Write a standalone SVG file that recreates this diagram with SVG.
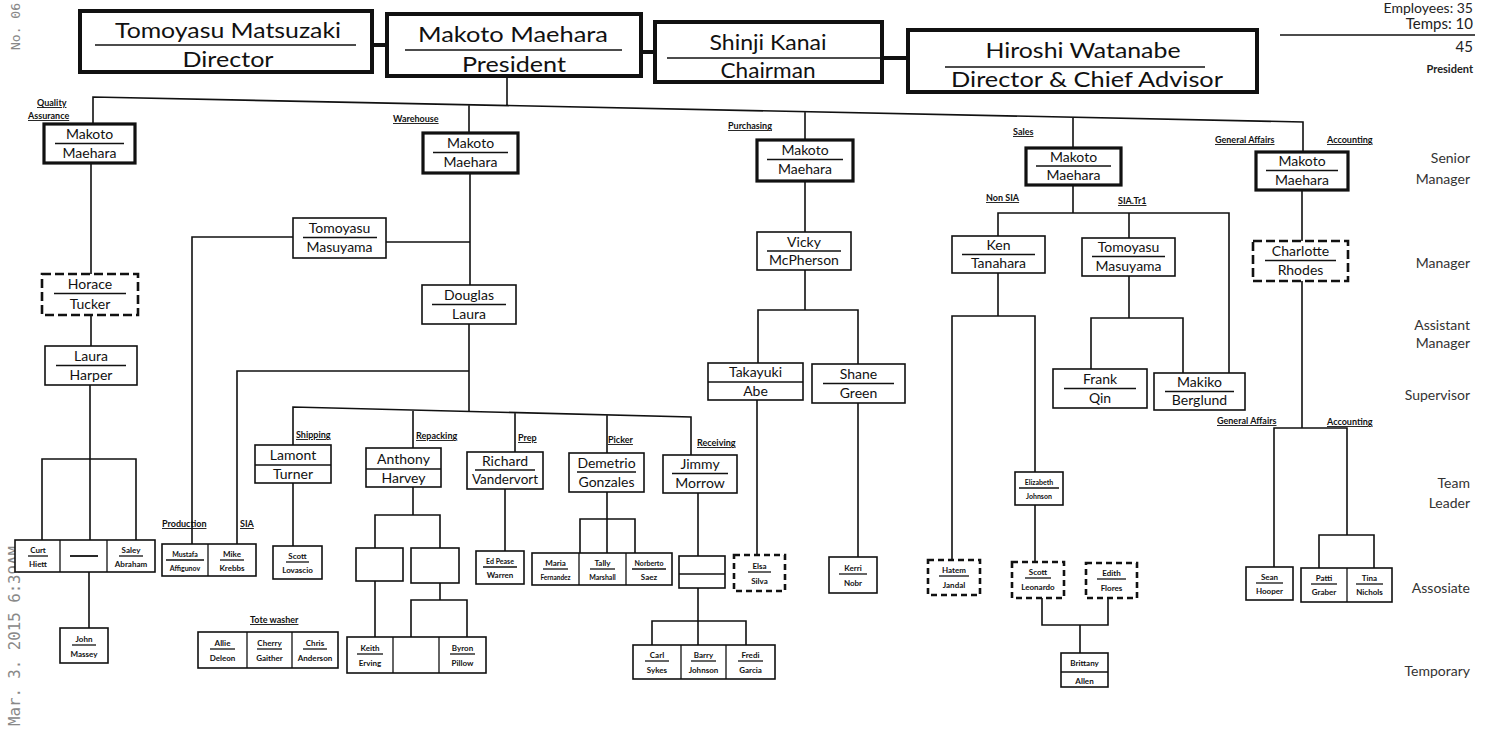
<svg xmlns="http://www.w3.org/2000/svg" width="1486" height="729" viewBox="0 0 1486 729">
<style>
.b{fill:#fff;stroke:#111;stroke-width:1.6}
.bt{fill:#fff;stroke:#111;stroke-width:3.2}
.bx{fill:#fff;stroke:#111;stroke-width:4}
.bd{fill:#fff;stroke:#111;stroke-width:2.6;stroke-dasharray:9 4}
.c{stroke:#111;stroke-width:1.6;fill:none}
.ct{stroke:#111;stroke-width:4;fill:none}
.u{stroke:#111;stroke-width:1.3}
text{font-family:Lato,"Open Sans","Liberation Sans",sans-serif;fill:#111;text-anchor:middle}
.t{font-size:14px}
.tl{font-size:22px}
.ts{font-size:8px;font-weight:700}
.d{font-size:9px;font-weight:700;text-decoration:underline;text-anchor:start}
.lev{font-size:14px;text-anchor:end;fill:#333}
.tr{font-size:15px;text-anchor:end;fill:#222}
.fax{font-family:"DejaVu Sans Mono",monospace;font-size:16px;fill:#888;text-anchor:start}
</style>
<rect width="1486" height="729" fill="#fff"/>

<!-- fax header -->
<text class="fax" transform="translate(20,726) rotate(-90)" textLength="180" lengthAdjust="spacingAndGlyphs">Mar. 3. 2015  6:39AM</text>
<text class="fax" transform="translate(20,50) rotate(-90)" style="font-size:13px">No. 06</text>

<!-- top right totals -->
<text class="tr" x="1473" y="13" style="font-size:14px">Employees: 35</text>
<text class="tr" x="1473" y="29">Temps: 10</text>
<line class="u" x1="1280" y1="35" x2="1475" y2="35" style="stroke-width:1.5"/>
<text class="tr" x="1473" y="52">45</text>
<text class="tr" x="1473" y="73" style="font-size:11px;font-weight:700">President</text>

<!-- level labels -->
<g id="levels">
<text class="lev" x="1470" y="163">Senior</text>
<text class="lev" x="1470" y="184">Manager</text>
<text class="lev" x="1470" y="268">Manager</text>
<text class="lev" x="1470" y="330">Assistant</text>
<text class="lev" x="1470" y="348">Manager</text>
<text class="lev" x="1470" y="400">Supervisor</text>
<text class="lev" x="1470" y="488">Team</text>
<text class="lev" x="1470" y="508">Leader</text>
<text class="lev" x="1470" y="593">Assosiate</text>
<text class="lev" x="1470" y="676">Temporary</text>
</g>

<!-- connectors -->
<g id="connectors">
<path class="ct" d="M372,45 H387 M641,52 H655 M882,58 H908"/>
<path class="c" d="M93,124 V97 L1303,122 V152 M507,76 V105.5 M469,105 V133 M805,112 V140 M1073,117 V148"/>
<path class="c" d="M91,163 V274 M91,315 V346 M90,385 V540 M42,540 V459 H136 V540 M89,572 V628"/>
<path class="c" d="M470,173 V285 M386,242 H470 M293,237 H192 V544 M469,324 V411 M237,544 V371 H469"/>
<path class="c" d="M293,445 V407 L691,417 V455 M413,410 V448 M515,413 V452 M607,415 V453"/>
<path class="c" d="M293,483 V546 M413,487 V515 M375,548 V515 H440 V548 M375,581 V637 M440,583 V600 M411,637 V600 H467 V637"/>
<path class="c" d="M505,489 V551 M607,492 V553 M580,553 V519 H635 V553 M698,493 V556 M698,588 V645 M652,645 V621 H746 V645"/>
<path class="c" d="M805,181 V232 M805,270 V310 M758,363 V310 H858 V364 M757,400 V555 M858,403 V557"/>
<path class="c" d="M1073,185 V213 M998,236 V213 H1229 V373 M1129,213 V238 M998,273 V316 M952,560 V316 H1035 V472 M1035,505 V562 M1129,276 V318 M1091,369 V318 H1183 V373 M1042,598 V625 H1108 V598 M1080,625 V653"/>
<path class="c" d="M1302,190 V241 M1302,281 V428 M1274,567 V428 H1347 V535 M1319,568 V535 H1374 V568"/>
</g>

<!-- department labels -->
<g id="labels">
<text class="d" x="37" y="106">Quality</text>
<text class="d" x="28" y="119">Assurance</text>
<text class="d" x="393" y="122">Warehouse</text>
<text class="d" x="728" y="129">Purchasing</text>
<text class="d" x="1013" y="135">Sales</text>
<text class="d" x="1215" y="143">General Affairs</text>
<text class="d" x="1327" y="143">Accounting</text>
<text class="d" x="986" y="201">Non SIA</text>
<text class="d" x="1118" y="204">SIA.Tr1</text>
<text class="d" x="162" y="527">Production</text>
<text class="d" x="240" y="527">SIA</text>
<text class="d" x="296" y="438">Shipping</text>
<text class="d" x="416" y="439">Repacking</text>
<text class="d" x="518" y="441">Prep</text>
<text class="d" x="608" y="443">Picker</text>
<text class="d" x="697" y="446">Receiving</text>
<text class="d" x="250" y="623">Tote washer</text>
<text class="d" x="1217" y="424">General Affairs</text>
<text class="d" x="1327" y="425">Accounting</text>
</g>

<!-- top row -->
<g id="n-matsuzaki"><rect class="bx" x="80" y="11" width="292" height="61"/><text class="tl" x="228" y="38" textLength="226" lengthAdjust="spacingAndGlyphs">Tomoyasu Matsuzaki</text><line class="u" x1="95" y1="45" x2="356" y2="45"/><text class="tl" x="228" y="67" textLength="91" lengthAdjust="spacingAndGlyphs">Director</text></g>
<g id="n-president"><rect class="bx" x="387" y="14" width="254" height="62"/><text class="tl" x="513" y="42" textLength="190" lengthAdjust="spacingAndGlyphs">Makoto Maehara</text><line class="u" x1="405" y1="50" x2="622" y2="50"/><text class="tl" x="514" y="72" textLength="104" lengthAdjust="spacingAndGlyphs">President</text></g>
<g id="n-chairman"><rect class="bx" x="655" y="22" width="227" height="60"/><text class="tl" x="768" y="50" textLength="117" lengthAdjust="spacingAndGlyphs">Shinji Kanai</text><line class="u" x1="667" y1="58" x2="880" y2="58"/><text class="tl" x="768" y="78" textLength="95" lengthAdjust="spacingAndGlyphs">Chairman</text></g>
<g id="n-advisor"><rect class="bx" x="908" y="30" width="349" height="62"/><text class="tl" x="1083" y="58" textLength="195" lengthAdjust="spacingAndGlyphs">Hiroshi Watanabe</text><line class="u" x1="945" y1="67" x2="1205" y2="67"/><text class="tl" x="1087" y="87" textLength="272" lengthAdjust="spacingAndGlyphs">Director &amp; Chief Advisor</text></g>

<!-- senior managers -->
<g id="n-qa"><rect class="bt" x="44" y="124" width="91" height="39"/><text class="t" x="89.5" y="139">Makoto</text><line class="u" x1="55" y1="143.5" x2="124" y2="143.5"/><text class="t" x="89.5" y="158">Maehara</text></g>
<g id="n-wh"><rect class="bt" x="423" y="133" width="95" height="40"/><text class="t" x="470.5" y="148">Makoto</text><line class="u" x1="433" y1="152.5" x2="508" y2="152.5"/><text class="t" x="470.5" y="167">Maehara</text></g>
<g id="n-pu"><rect class="bt" x="757" y="140" width="96" height="41"/><text class="t" x="805" y="155">Makoto</text><line class="u" x1="767" y1="159.5" x2="843" y2="159.5"/><text class="t" x="805" y="174">Maehara</text></g>
<g id="n-sa"><rect class="bt" x="1026" y="148" width="95" height="37"/><text class="t" x="1073.5" y="162">Makoto</text><line class="u" x1="1036" y1="166" x2="1111" y2="166"/><text class="t" x="1073.5" y="180">Maehara</text></g>
<g id="n-ga"><rect class="bt" x="1256" y="152" width="92" height="38"/><text class="t" x="1302" y="166">Makoto</text><line class="u" x1="1266" y1="170.5" x2="1338" y2="170.5"/><text class="t" x="1302" y="185">Maehara</text></g>

<!-- managers -->
<g id="n-horace"><rect class="bd" x="42" y="274" width="96" height="41"/><text class="t" x="90" y="289">Horace</text><line class="u" x1="54" y1="293.5" x2="126" y2="293.5"/><text class="t" x="90" y="309">Tucker</text></g>
<g id="n-masuyama1"><rect class="b" x="293" y="218" width="93" height="40"/><text class="t" x="339.5" y="233">Tomoyasu</text><line class="u" x1="303" y1="237.5" x2="377" y2="237.5"/><text class="t" x="339.5" y="252">Masuyama</text></g>
<g id="n-vicky"><rect class="b" x="757" y="232" width="94" height="38"/><text class="t" x="804" y="247">Vicky</text><line class="u" x1="767" y1="251" x2="841" y2="251"/><text class="t" x="804" y="265">McPherson</text></g>
<g id="n-ken"><rect class="b" x="952" y="236" width="93" height="37"/><text class="t" x="998.5" y="250">Ken</text><line class="u" x1="962" y1="254.5" x2="1035" y2="254.5"/><text class="t" x="998.5" y="268">Tanahara</text></g>
<g id="n-masuyama2"><rect class="b" x="1082" y="238" width="93" height="38"/><text class="t" x="1128.5" y="252">Tomoyasu</text><line class="u" x1="1092" y1="256.5" x2="1165" y2="256.5"/><text class="t" x="1128.5" y="271">Masuyama</text></g>
<g id="n-charlotte"><rect class="bd" x="1253" y="241" width="95" height="40"/><text class="t" x="1300.5" y="256">Charlotte</text><line class="u" x1="1265" y1="260.5" x2="1336" y2="260.5"/><text class="t" x="1300.5" y="275">Rhodes</text></g>

<!-- assistant managers -->
<g id="n-laura"><rect class="b" x="45" y="346" width="92" height="39"/><text class="t" x="91" y="361">Laura</text><line class="u" x1="56" y1="365.5" x2="126" y2="365.5"/><text class="t" x="91" y="380">Harper</text></g>
<g id="n-douglas"><rect class="b" x="422" y="285" width="94" height="39"/><text class="t" x="469" y="300">Douglas</text><line class="u" x1="432" y1="304.5" x2="506" y2="304.5"/><text class="t" x="469" y="319">Laura</text></g>

<!-- supervisors -->
<g id="n-takayuki"><rect class="b" x="708" y="363" width="95" height="37"/><line class="u" x1="708" y1="382" x2="803" y2="382"/><text class="t" x="755.5" y="377">Takayuki</text><text class="t" x="755.5" y="396">Abe</text></g>
<g id="n-shane"><rect class="b" x="812" y="364" width="93" height="39"/><text class="t" x="858.5" y="379">Shane</text><line class="u" x1="823" y1="383.5" x2="894" y2="383.5"/><text class="t" x="858.5" y="398">Green</text></g>
<g id="n-frank"><rect class="b" x="1053" y="369" width="94" height="39"/><text class="t" x="1100" y="384">Frank</text><line class="u" x1="1064" y1="388.5" x2="1136" y2="388.5"/><text class="t" x="1100" y="403">Qin</text></g>
<g id="n-makiko"><rect class="b" x="1154" y="373" width="91" height="37"/><text class="t" x="1199.5" y="387">Makiko</text><line class="u" x1="1165" y1="391.5" x2="1234" y2="391.5"/><text class="t" x="1199.5" y="405">Berglund</text></g>

<!-- team leaders -->
<g id="n-lamont"><rect class="b" x="255" y="445" width="76" height="38"/><line class="u" x1="255" y1="465" x2="331" y2="465"/><text class="t" x="293" y="460">Lamont</text><text class="t" x="293" y="479">Turner</text></g>
<g id="n-anthony"><rect class="b" x="366" y="448" width="75" height="39"/><line class="u" x1="366" y1="469" x2="441" y2="469"/><text class="t" x="403.5" y="464">Anthony</text><text class="t" x="403.5" y="483">Harvey</text></g>
<g id="n-richard"><rect class="b" x="467" y="452" width="76" height="37"/><text class="t" x="505" y="466">Richard</text><line class="u" x1="475" y1="470" x2="535" y2="470"/><text class="t" x="505" y="484" textLength="66" lengthAdjust="spacingAndGlyphs">Vandervort</text></g>
<g id="n-demetrio"><rect class="b" x="569" y="453" width="75" height="39"/><text class="t" x="606.5" y="468">Demetrio</text><line class="u" x1="577" y1="472" x2="636" y2="472"/><text class="t" x="606.5" y="487">Gonzales</text></g>
<g id="n-jimmy"><rect class="b" x="663" y="455" width="74" height="38"/><text class="t" x="700" y="469">Jimmy</text><line class="u" x1="672" y1="473.5" x2="728" y2="473.5"/><text class="t" x="700" y="488">Morrow</text></g>
<g id="n-elizabeth"><rect class="b" x="1015" y="472" width="48" height="33"/><text class="ts" x="1039" y="485" style="font-size:7px">Elizabeth</text><line class="u" x1="1019" y1="488" x2="1059" y2="488"/><text class="ts" x="1039" y="499" style="font-size:7px">Johnson</text></g>

<!-- associates -->
<g id="n-curt-row"><rect class="b" x="15" y="540" width="140" height="32"/><line class="u" x1="60" y1="540" x2="60" y2="572"/><line class="u" x1="107" y1="540" x2="107" y2="572"/>
<text class="ts" x="38" y="553">Curt</text><line class="u" x1="28" y1="556" x2="48" y2="556"/><text class="ts" x="38" y="567">Hiett</text>
<line class="u" x1="70" y1="556" x2="98" y2="556" style="stroke-width:1.8"/>
<text class="ts" x="131" y="553">Saley</text><line class="u" x1="119" y1="556" x2="143" y2="556"/><text class="ts" x="131" y="567">Abraham</text></g>
<g id="n-prod-sia"><rect class="b" x="162" y="544" width="94" height="32"/><line class="u" x1="208" y1="544" x2="208" y2="576"/>
<text class="ts" x="185" y="557" style="font-size:7px">Mustafa</text><line class="u" x1="166" y1="560" x2="204" y2="560"/><text class="ts" x="185" y="571" style="font-size:7px">Affigunov</text>
<text class="ts" x="232" y="557">Mike</text><line class="u" x1="220" y1="560" x2="244" y2="560"/><text class="ts" x="232" y="571">Krebbs</text></g>
<g id="n-scott-l"><rect class="b" x="273" y="546" width="49" height="33"/><text class="ts" x="297.5" y="559">Scott</text><line class="u" x1="286" y1="562" x2="309" y2="562"/><text class="ts" x="297.5" y="573">Lovascio</text></g>
<g id="n-empty1"><rect class="b" x="356" y="548" width="47" height="33"/></g>
<g id="n-empty2"><rect class="b" x="411" y="548" width="48" height="35"/></g>
<g id="n-ed"><rect class="b" x="476" y="551" width="48" height="33"/><text class="ts" x="500" y="564" style="font-size:7px">Ed Pease</text><line class="u" x1="483" y1="567" x2="517" y2="567"/><text class="ts" x="500" y="578">Warren</text></g>
<g id="n-picker-row"><rect class="b" x="532" y="553" width="140" height="32"/><line class="u" x1="579" y1="553" x2="579" y2="585"/><line class="u" x1="626" y1="553" x2="626" y2="585"/>
<text class="ts" x="555.5" y="566">Maria</text><line class="u" x1="543" y1="569" x2="568" y2="569"/><text class="ts" x="555.5" y="580" style="font-size:6.5px">Fernandez</text>
<text class="ts" x="602.5" y="566">Tally</text><line class="u" x1="590" y1="569" x2="615" y2="569"/><text class="ts" x="602.5" y="580" style="font-size:7px">Marshall</text>
<text class="ts" x="649" y="566" style="font-size:7px">Norberto</text><line class="u" x1="632" y1="569" x2="666" y2="569"/><text class="ts" x="649" y="580">Saez</text></g>
<g id="n-empty3"><rect class="b" x="679" y="556" width="46" height="32"/><line class="u" x1="679" y1="574" x2="725" y2="574"/></g>
<g id="n-elsa"><rect class="bd" x="734" y="555" width="51" height="36" style="stroke-dasharray:6 4"/><text class="ts" x="759.5" y="569">Elsa</text><line class="u" x1="748" y1="572" x2="771" y2="572"/><text class="ts" x="759.5" y="584">Silva</text></g>
<g id="n-kerri"><rect class="b" x="829" y="557" width="48" height="36"/><text class="ts" x="853" y="571">Kerri</text><line class="u" x1="839" y1="574" x2="867" y2="574"/><text class="ts" x="853" y="586">Nobr</text></g>
<g id="n-hatem"><rect class="bd" x="928" y="560" width="52" height="35" style="stroke-dasharray:6 4"/><text class="ts" x="954" y="573">Hatem</text><line class="u" x1="939" y1="576" x2="969" y2="576"/><text class="ts" x="954" y="588">Jandal</text></g>
<g id="n-scott-le"><rect class="bd" x="1012" y="562" width="52" height="36" style="stroke-dasharray:6 4"/><text class="ts" x="1038" y="575">Scott</text><line class="u" x1="1025" y1="578" x2="1051" y2="578"/><text class="ts" x="1038" y="590">Leonardo</text></g>
<g id="n-edith"><rect class="bd" x="1086" y="563" width="51" height="35" style="stroke-dasharray:6 4"/><text class="ts" x="1111.5" y="576">Edith</text><line class="u" x1="1097" y1="579" x2="1126" y2="579"/><text class="ts" x="1111.5" y="591">Flores</text></g>
<g id="n-sean"><rect class="b" x="1246" y="567" width="47" height="33"/><text class="ts" x="1269.5" y="580">Sean</text><line class="u" x1="1256" y1="583" x2="1283" y2="583"/><text class="ts" x="1269.5" y="594">Hooper</text></g>
<g id="n-patti-tina"><rect class="b" x="1301" y="568" width="91" height="34"/><line class="u" x1="1347" y1="568" x2="1347" y2="602"/>
<text class="ts" x="1324" y="581">Patti</text><line class="u" x1="1311" y1="584" x2="1337" y2="584"/><text class="ts" x="1324" y="595">Graber</text>
<text class="ts" x="1369.5" y="581">Tina</text><line class="u" x1="1356" y1="584" x2="1383" y2="584"/><text class="ts" x="1369.5" y="595">Nichols</text></g>

<!-- temporary -->
<g id="n-john"><rect class="b" x="60" y="628" width="48" height="35"/><text class="ts" x="84" y="642">John</text><line class="u" x1="72" y1="645" x2="96" y2="645"/><text class="ts" x="84" y="657">Massey</text></g>
<g id="n-tote-row"><rect class="b" x="198" y="632" width="140" height="36"/><line class="u" x1="247" y1="632" x2="247" y2="668"/><line class="u" x1="292" y1="632" x2="292" y2="668"/>
<text class="ts" x="222.5" y="646">Allie</text><line class="u" x1="210" y1="649" x2="235" y2="649"/><text class="ts" x="222.5" y="661">Deleon</text>
<text class="ts" x="269.5" y="646">Cherry</text><line class="u" x1="257" y1="649" x2="282" y2="649"/><text class="ts" x="269.5" y="661">Gaither</text>
<text class="ts" x="315" y="646">Chris</text><line class="u" x1="303" y1="649" x2="327" y2="649"/><text class="ts" x="315" y="661">Anderson</text></g>
<g id="n-keith-row"><rect class="b" x="347" y="637" width="139" height="36"/><line class="u" x1="393" y1="637" x2="393" y2="673"/><line class="u" x1="439" y1="637" x2="439" y2="673"/>
<text class="ts" x="370" y="651">Keith</text><line class="u" x1="357" y1="654" x2="383" y2="654"/><text class="ts" x="370" y="666">Erving</text>
<text class="ts" x="462.5" y="651">Byron</text><line class="u" x1="450" y1="654" x2="475" y2="654"/><text class="ts" x="462.5" y="666">Pillow</text></g>
<g id="n-carl-row"><rect class="b" x="633" y="645" width="142" height="34"/><line class="u" x1="681" y1="645" x2="681" y2="679"/><line class="u" x1="726" y1="645" x2="726" y2="679"/>
<text class="ts" x="657" y="658">Carl</text><line class="u" x1="645" y1="661" x2="669" y2="661"/><text class="ts" x="657" y="673">Sykes</text>
<text class="ts" x="703.5" y="658">Barry</text><line class="u" x1="691" y1="661" x2="716" y2="661"/><text class="ts" x="703.5" y="673">Johnson</text>
<text class="ts" x="750.5" y="658">Fredi</text><line class="u" x1="738" y1="661" x2="763" y2="661"/><text class="ts" x="750.5" y="673">Garcia</text></g>
<g id="n-brittany"><rect class="b" x="1061" y="653" width="47" height="34"/><line class="u" x1="1061" y1="672" x2="1108" y2="672"/><text class="ts" x="1084.5" y="666">Brittany</text><text class="ts" x="1084.5" y="684">Allen</text></g>
</svg>
